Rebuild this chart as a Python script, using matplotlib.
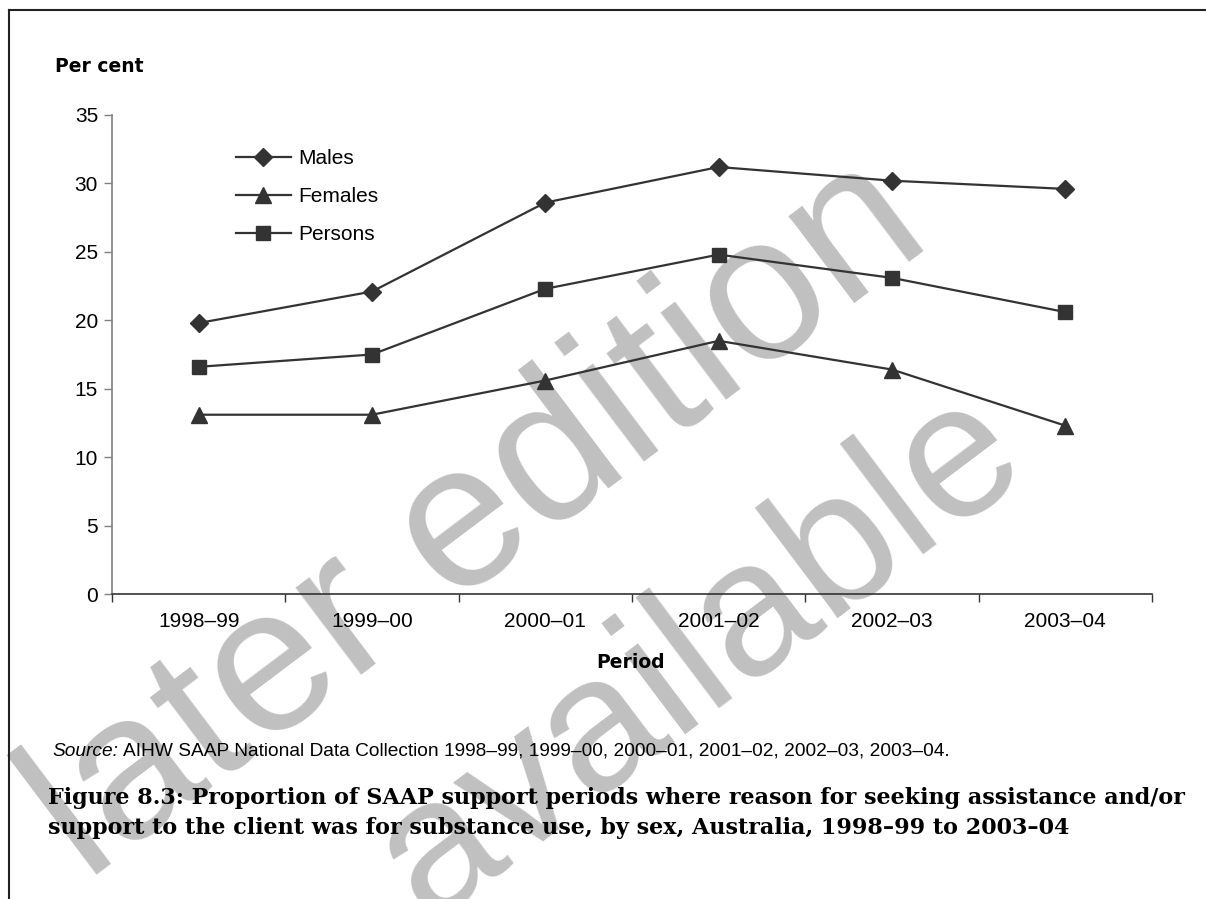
import matplotlib
matplotlib.use("Agg")
import matplotlib.pyplot as plt
from matplotlib.lines import Line2D

periods = ["1998–99", "1999–00", "2000–01", "2001–02", "2002–03", "2003–04"]
males = [19.8, 22.1, 28.6, 31.2, 30.2, 29.6]
females = [13.1, 13.1, 15.6, 18.5, 16.4, 12.3]
persons = [16.6, 17.5, 22.3, 24.8, 23.1, 20.6]
yticks = [0, 5, 10, 15, 20, 25, 30, 35]

source_text = "AIHW SAAP National Data Collection 1998–99, 1999–00, 2000–01, 2001–02, 2002–03, 2003–04."
caption_lines = ["Figure 8.3: Proportion of SAAP support periods where reason for seeking assistance and/or",
                 "support to the client was for substance use, by sex, Australia, 1998–99 to 2003–04"]

plt.rcParams['font.family'] = ['Liberation Sans', 'DejaVu Sans']

W, H = 1206, 899
fig = plt.figure(figsize=(W / 100, H / 100), dpi=100)
fig.patch.set_facecolor('white')

# watermark (below everything)
wm = '#c0c0c0'
fig.text(478 / W, 1 - 520 / H, "later edition", fontsize=148, color=wm, rotation=37,
         ha='center', va='center', rotation_mode='anchor', zorder=0)
fig.text(700 / W, 1 - 655 / H, "available", fontsize=138, color=wm, rotation=37,
         ha='center', va='center', rotation_mode='anchor', zorder=0)

ax = fig.add_axes([112 / W, 1 - 594 / H, (1152 - 112) / W, (594 - 115) / H], zorder=1)
ax.patch.set_visible(False)

x = list(range(len(periods)))
col = '#333333'
ax.plot(x, males, color=col, lw=1.6, marker='D', ms=9, label='Males')
ax.plot(x, females, color=col, lw=1.6, marker='^', ms=11, label='Females')
ax.plot(x, persons, color=col, lw=1.6, marker='s', ms=10, label='Persons')

ax.set_xlim(-0.5, len(periods) - 0.5)
ax.set_ylim(0, 35)
ax.set_yticks(yticks)
ax.set_yticklabels([str(v) for v in yticks], fontsize=15)
ax.set_xticks([i - 0.5 for i in range(len(periods) + 1)])
ax.set_xticklabels([])
ax.set_xticks(x, minor=True)
ax.set_xticklabels(periods, minor=True, fontsize=15)
ax.tick_params(axis='x', which='major', length=6, width=1, color='#333333', direction='out')
ax.tick_params(axis='x', which='minor', length=0, pad=13)
ax.tick_params(axis='y', length=6, width=1, color='#808080', pad=4)

for s in ['top', 'right']:
    ax.spines[s].set_visible(False)
ax.spines['left'].set_color('#808080')
ax.spines['left'].set_linewidth(1.2)
ax.spines['bottom'].set_color('#333333')
ax.spines['bottom'].set_linewidth(1.2)

leg = ax.legend(loc='upper left', bbox_to_anchor=((228 - 112) / (1152 - 112), (594 - 141) / (594 - 115)),
                frameon=False, fontsize=15, handlelength=2.6, handletextpad=0.35,
                labelspacing=0.9, borderaxespad=0)

fig.text(55 / W, 1 - 66 / H, "Per cent", fontsize=13.5, fontweight='bold', ha='left', va='center',
         family=['DejaVu Sans'])
fig.text(631 / W, 1 - 662 / H, "Period", fontsize=13.5, fontweight='bold', ha='center', va='center',
         family=['DejaVu Sans'])

t_src = fig.text(52 / W, 1 - 751 / H, "Source:", fontsize=13.8, style='italic', ha='left', va='center')
fig.canvas.draw()
r = fig.canvas.get_renderer()
bb = t_src.get_window_extent(renderer=r)
fig.text((bb.x1 + 5) / W, 1 - 751 / H, source_text, fontsize=13.8, ha='left', va='center')

for i, line in enumerate(caption_lines):
    fig.text(48 / W, 1 - (798 + 30 * i) / H, line, fontsize=16, fontweight='bold', ha='left', va='center',
             family=['DejaVu Serif'])

# frame lines
fig.add_artist(Line2D([9 / W, 9 / W], [0, 1 - 10 / H], color='#222222', lw=1.5, transform=fig.transFigure))
fig.add_artist(Line2D([9 / W, 1], [1 - 10 / H, 1 - 10 / H], color='#222222', lw=1.5, transform=fig.transFigure))

fig.savefig("out.png", dpi=100)
